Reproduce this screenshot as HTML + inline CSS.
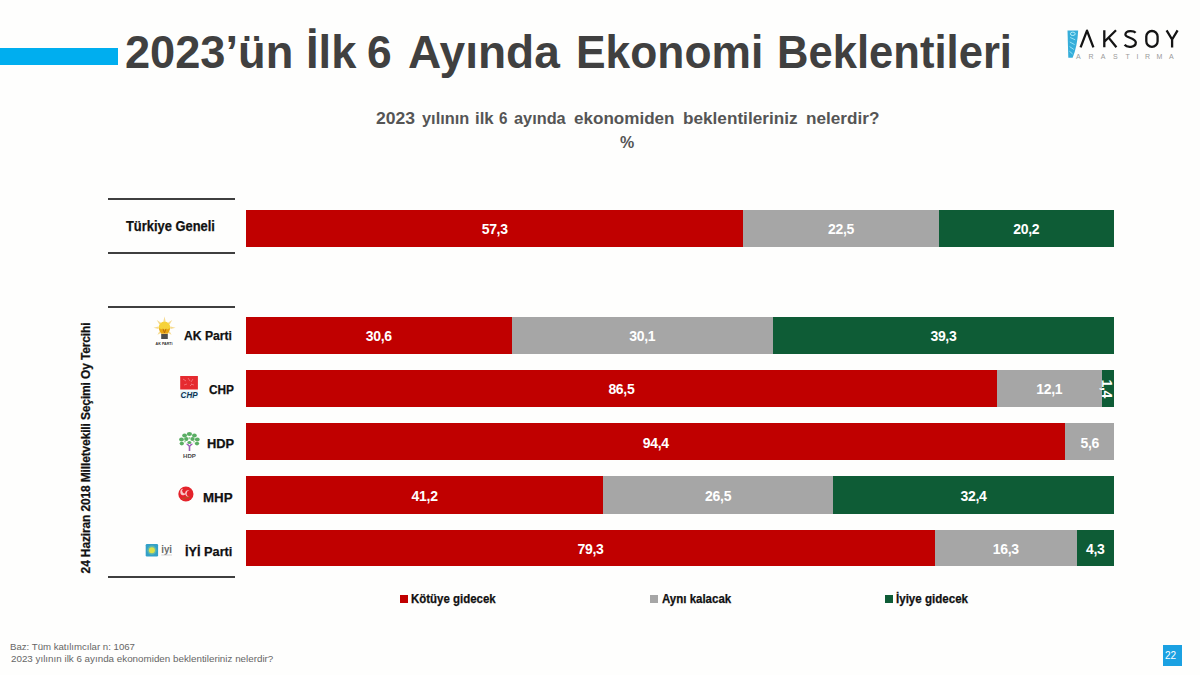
<!DOCTYPE html>
<html><head><meta charset="utf-8">
<style>
html,body{margin:0;padding:0;}
body{width:1200px;height:675px;position:relative;overflow:hidden;background:#FEFEFD;font-family:"Liberation Sans",sans-serif;}
.a{position:absolute;white-space:nowrap;}
.hv{-webkit-text-stroke:0.25px currentColor;}
.seg{position:absolute;display:flex;align-items:center;justify-content:center;}
.seg .l{color:#fff;font-weight:bold;font-size:14px;letter-spacing:-0.3px;position:relative;top:1px;}
.seg .vl{color:#fff;font-weight:bold;font-size:14px;letter-spacing:-0.3px;transform:rotate(90deg) translate(0.7px,1.2px);display:inline-block;}
.rule{position:absolute;left:108px;width:126.5px;height:2px;background:#3f3f3f;}
.lab{position:absolute;right:967px;font-weight:bold;font-size:13px;color:#111;white-space:nowrap;}
</style></head><body>
<div class="a" style="left:0;top:48px;width:118px;height:17px;background:#00AEEF"></div>
<div class="a" style="left:125.04px;top:24.8px;font-size:46px;font-weight:bold;color:#404040;transform:scaleX(0.9820);transform-origin:0 0">2023’ün</div>
<div class="a" style="left:305.85px;top:24.8px;font-size:46px;font-weight:bold;color:#404040;transform:scaleX(0.9833);transform-origin:0 0">İlk</div>
<div class="a" style="left:366.87px;top:24.8px;font-size:46px;font-weight:bold;color:#404040;transform:scaleX(0.9636);transform-origin:0 0">6</div>
<div class="a" style="left:407.80px;top:24.8px;font-size:46px;font-weight:bold;color:#404040;transform:scaleX(1.0013);transform-origin:0 0">Ayında</div>
<div class="a" style="left:575.91px;top:24.8px;font-size:46px;font-weight:bold;color:#404040;transform:scaleX(0.9638);transform-origin:0 0">Ekonomi</div>
<div class="a" style="left:777.16px;top:24.8px;font-size:46px;font-weight:bold;color:#404040;transform:scaleX(0.9475);transform-origin:0 0">Beklentileri</div>
<div class="a" style="left:376.00px;top:110px;font-size:16px;font-weight:bold;color:#555;transform:scaleX(1.0971);transform-origin:0 0">2023</div>
<div class="a" style="left:421.60px;top:110px;font-size:16px;font-weight:bold;color:#555;transform:scaleX(1.0217);transform-origin:0 0">yılının</div>
<div class="a" style="left:474.65px;top:110px;font-size:16px;font-weight:bold;color:#555;transform:scaleX(1.0471);transform-origin:0 0">ilk</div>
<div class="a" style="left:499.05px;top:110px;font-size:16px;font-weight:bold;color:#555;transform:scaleX(0.9500);transform-origin:0 0">6</div>
<div class="a" style="left:514.00px;top:110px;font-size:16px;font-weight:bold;color:#555;transform:scaleX(1.0196);transform-origin:0 0">ayında</div>
<div class="a" style="left:573.73px;top:110px;font-size:16px;font-weight:bold;color:#555;transform:scaleX(1.0667);transform-origin:0 0">ekonomiden</div>
<div class="a" style="left:682.93px;top:110px;font-size:16px;font-weight:bold;color:#555;transform:scaleX(1.0733);transform-origin:0 0">beklentileriniz</div>
<div class="a" style="left:805.53px;top:110px;font-size:16px;font-weight:bold;color:#555;transform:scaleX(1.0716);transform-origin:0 0">nelerdir?</div>
<div class="a" id="pct" style="left:620px;top:134px;font-size:16px;font-weight:bold;color:#555;">%</div>
<svg class="a" style="left:1060px;top:25px" width="130" height="40" viewBox="1060 25 130 40">
<path d="M1067.5,30.4 L1078.2,30.4 Q1077.4,46 1072.6,57.8 L1068.3,57.8 Z" fill="#36AEDA"/>
<ellipse cx="1072.8" cy="33.8" rx="2.4" ry="1.7" stroke="#B5EEF9" stroke-width="1" fill="none"/>
<path d="M1070.2,37.5 L1075.2,39.8 M1069.8,42 L1074.6,44.6 M1069.6,46.6 L1073.8,49.4 M1069.4,51.2 L1072.6,54" stroke="#9FE6F6" stroke-width="0.9" fill="none"/>
<g stroke="#141414" stroke-width="2.3" fill="none" stroke-linejoin="round">
<path d="M1080.6,47.3 L1087,30.6 L1093.4,47.3"/>
<path d="M1104.3,30.3 V47.3 M1116,30.3 L1104.6,41.5 M1108.6,37.6 L1116.4,47.3"/>
<path d="M1135.6,32.8 C1134,30.8 1126,29.8 1125.4,34.4 C1125,38 1135.8,37.6 1135.8,42.6 C1135.8,47.8 1127,47.8 1124.6,44.8"/>
<rect x="1146.3" y="31.0" width="11.3" height="15.8" rx="5.6" ry="5.6"/>
<path d="M1166.6,30.3 L1172.1,39.5 L1177.6,30.3 M1172.1,39.5 V47.5"/>
</g>
<g fill="#9a9a9a" font-family="Liberation Sans" font-size="7">
<text x="1076" y="58.8">A</text><text x="1088.6" y="58.8">R</text><text x="1100.8" y="58.8">A</text><text x="1113" y="58.8">S</text><text x="1125.4" y="58.8">T</text><text x="1136.6" y="58.8">I</text><text x="1145" y="58.8">R</text><text x="1156.6" y="58.8">M</text><text x="1169" y="58.8">A</text>
</g>
</svg>
<div class="rule" style="top:198px"></div>
<div class="rule" style="top:252px"></div>
<div class="rule" style="top:306px"></div>
<div class="rule" style="top:576px"></div>

<div class="a hv" style="left:126.10px;top:217.5px;font-weight:bold;font-size:14px;color:#111;transform:scaleX(0.9208);transform-origin:0 0">Türkiye Geneli</div>
<div class="a hv" style="left:183.90px;top:328px;font-weight:bold;font-size:13px;color:#111;transform:scaleX(0.9353);transform-origin:0 0">AK Parti</div>
<div class="a hv" style="left:208.90px;top:382px;font-weight:bold;font-size:13px;color:#111;transform:scaleX(0.9111);transform-origin:0 0">CHP</div>
<div class="a hv" style="left:206.51px;top:436px;font-weight:bold;font-size:13px;color:#111;transform:scaleX(0.9885);transform-origin:0 0">HDP</div>
<div class="a hv" style="left:202.67px;top:490px;font-weight:bold;font-size:13px;color:#111;transform:scaleX(1.0250);transform-origin:0 0">MHP</div>
<div class="a hv" style="left:184.62px;top:544px;font-weight:bold;font-size:13px;color:#111;transform:scaleX(0.9787);transform-origin:0 0">İYİ Parti</div>
<svg class="a" style="left:140px;top:310px" width="70" height="260" viewBox="140 310 70 260">
<g>
<g transform="translate(164.5,327.8)">
<g fill="#F4CF6A" opacity="0.75">
<polygon points="0,-11.2 1.2,-6 -1.2,-6"/>
<polygon points="0,-11 1.2,-6 -1.2,-6" transform="rotate(45)"/>
<polygon points="0,-11 1.2,-6 -1.2,-6" transform="rotate(90)"/>
<polygon points="0,-10 1.2,-6 -1.2,-6" transform="rotate(135)"/>
<polygon points="0,-11 1.2,-6 -1.2,-6" transform="rotate(-45)"/>
<polygon points="0,-11 1.2,-6 -1.2,-6" transform="rotate(-90)"/>
<polygon points="0,-10 1.2,-6 -1.2,-6" transform="rotate(-135)"/>
</g>
<circle cx="0" cy="-0.5" r="5.8" fill="#F6D23A"/>
<path d="M-5.6,0.5 Q0,3 5.6,0.5 Q5,4 3.3,6 L-3.3,6 Q-5,4 -5.6,0.5 Z" fill="#E9A512"/>
<path d="M-1.5,1 L0,5 L1.5,1" stroke="#B86A0A" stroke-width="0.9" fill="none"/>
<rect x="-3.3" y="6.2" width="6.6" height="5" fill="#4d4d4d"/>
</g>
<text x="155.6" y="344.6" font-family="Liberation Sans" font-size="4" font-weight="bold" fill="#333" textLength="17" lengthAdjust="spacingAndGlyphs">AK PARTİ</text>
<rect x="180.2" y="376" width="17.7" height="13.5" fill="#E52A2F"/>
<g stroke="#F27A80" stroke-width="0.8" fill="none"><path d="M183,379 l3,2 M188,378 l2,3 M193,379 l-2,3 M184,385 l3,-1 M190,386 l2,-2 M194,385 l-3,-1"/></g>
<rect x="180.2" y="390.5" width="17.7" height="8" fill="#E6F6FA"/>
<text x="180.6" y="397.9" font-family="Liberation Sans" font-size="8.2" font-weight="bold" font-style="italic" fill="#0E3756" textLength="17" lengthAdjust="spacingAndGlyphs">CHP</text>
<g fill="#5AAE64">
<ellipse cx="189.4" cy="434" rx="2.6" ry="2"/><ellipse cx="184.6" cy="435.6" rx="2.4" ry="2"/><ellipse cx="194.4" cy="435.6" rx="2.4" ry="2"/>
<ellipse cx="181.5" cy="439.5" rx="2.4" ry="2"/><ellipse cx="197.3" cy="439.5" rx="2.4" ry="2"/>
<ellipse cx="186.3" cy="439" rx="2.2" ry="1.9"/><ellipse cx="192.5" cy="439" rx="2.2" ry="1.9"/>
<ellipse cx="181.8" cy="443.6" rx="2.2" ry="1.8"/><ellipse cx="197" cy="443.6" rx="2.2" ry="1.8"/>
<ellipse cx="189.4" cy="442.5" rx="2" ry="1.6"/>
</g>
<g fill="#9BD39A"><circle cx="189.4" cy="438.2" r="1.1"/><circle cx="185" cy="441.6" r="0.9"/><circle cx="194" cy="441.6" r="0.9"/></g>
<path d="M185.8,443.8 L188.7,446.6 L188.7,451 L190.3,451 L190.3,446.6 L193.2,443.8 L191,443.8 L189.5,445.4 L188,443.8 Z" fill="#9B5DB8"/>
<text x="183.1" y="457.8" font-family="Liberation Sans" font-size="5.6" font-weight="bold" fill="#4a4a4a" textLength="12.8" lengthAdjust="spacingAndGlyphs">HDP</text>
<circle cx="185.9" cy="494" r="7.6" fill="#E4232B"/>
<g fill="#F9C9C9">
<path d="M183,488.8 a3,3.2 0 1,0 3.2,4 a2.3,2.5 0 1,1 -3.2,-4Z"/>
<path d="M189.6,490.6 a3,3.2 0 1,0 -0.5,5.8 a2.3,2.5 0 1,1 0.5,-5.8Z"/>
<path d="M182.6,496 a3,3 0 1,0 5.6,2.4 a2.4,2.3 0 1,1 -5.6,-2.4Z"/>
</g>
<path d="M182,499 q4,-1.5 8,-2" stroke="#9a6a20" stroke-width="0.7" fill="none"/>
<rect x="145.7" y="544" width="12.4" height="12.5" rx="1.2" fill="#33A0C8"/>
<circle cx="151.9" cy="550.2" r="4.6" fill="#7CC59A" opacity="0.6"/>
<circle cx="151.9" cy="550.2" r="3" fill="#DCE148"/>
<text x="161.2" y="553" font-family="Liberation Sans" font-size="11" font-weight="bold" fill="#6a6a6a" textLength="10.8" lengthAdjust="spacingAndGlyphs">iyi</text>
<rect x="161.2" y="554.6" width="10.8" height="0.8" fill="#c8c8c8"/>
</g>
</svg>
<div class="a hv" id="vert" style="left:86px;top:448px;font-size:12px;font-weight:bold;color:#111;letter-spacing:-0.14px;transform:translate(-50%,-50%) rotate(-90deg);">24 Haziran 2018 Milletvekili Seçimi Oy Tercihi</div>

<div class="seg" style="left:246.00px;top:210px;width:497.36px;height:36.8px;background:#C00000"><span class="l">57,3</span></div>
<div class="seg" style="left:743.36px;top:210px;width:195.30px;height:36.8px;background:#A6A6A6"><span class="l">22,5</span></div>
<div class="seg" style="left:938.66px;top:210px;width:175.34px;height:36.8px;background:#0E5C36"><span class="l">20,2</span></div>
<div class="seg" style="left:246.00px;top:317px;width:265.61px;height:36.5px;background:#C00000"><span class="l">30,6</span></div>
<div class="seg" style="left:511.61px;top:317px;width:261.27px;height:36.5px;background:#A6A6A6"><span class="l">30,1</span></div>
<div class="seg" style="left:772.88px;top:317px;width:341.12px;height:36.5px;background:#0E5C36"><span class="l">39,3</span></div>
<div class="seg" style="left:246.00px;top:369.5px;width:750.82px;height:37.8px;background:#C00000"><span class="l">86,5</span></div>
<div class="seg" style="left:996.82px;top:369.5px;width:105.03px;height:37.8px;background:#A6A6A6"><span class="l">12,1</span></div>
<div class="seg" style="left:1101.85px;top:369.5px;width:12.15px;height:37.8px;background:#0E5C36"><span class="vl">1,4</span></div>
<div class="seg" style="left:246.00px;top:423.3px;width:819.39px;height:36.5px;background:#C00000"><span class="l">94,4</span></div>
<div class="seg" style="left:1065.39px;top:423.3px;width:48.61px;height:36.5px;background:#A6A6A6"><span class="l">5,6</span></div>
<div class="seg" style="left:246.00px;top:475.8px;width:357.26px;height:37.9px;background:#C00000"><span class="l">41,2</span></div>
<div class="seg" style="left:603.26px;top:475.8px;width:229.79px;height:37.9px;background:#A6A6A6"><span class="l">26,5</span></div>
<div class="seg" style="left:833.05px;top:475.8px;width:280.95px;height:37.9px;background:#0E5C36"><span class="l">32,4</span></div>
<div class="seg" style="left:246.00px;top:530px;width:689.01px;height:36.4px;background:#C00000"><span class="l">79,3</span></div>
<div class="seg" style="left:935.01px;top:530px;width:141.63px;height:36.4px;background:#A6A6A6"><span class="l">16,3</span></div>
<div class="seg" style="left:1076.64px;top:530px;width:37.36px;height:36.4px;background:#0E5C36"><span class="l">4,3</span></div>

<div class="a" style="left:399.5px;top:594.5px;width:8px;height:8px;background:#C00000"></div>
<div class="a hv" style="left:410.55px;top:592px;font-size:12px;font-weight:bold;color:#111;transform:scaleX(0.9545);transform-origin:0 0">Kötüye gidecek</div>
<div class="a" style="left:650px;top:594.5px;width:8px;height:8px;background:#A6A6A6"></div>
<div class="a hv" style="left:662.00px;top:592px;font-size:12px;font-weight:bold;color:#111;transform:scaleX(0.9569);transform-origin:0 0">Aynı kalacak</div>
<div class="a" style="left:885.3px;top:594.5px;width:8px;height:8px;background:#0E5C36"></div>
<div class="a hv" style="left:895.64px;top:592px;font-size:12px;font-weight:bold;color:#111;transform:scaleX(0.9635);transform-origin:0 0">İyiye gidecek</div>

<div class="a" style="left:9.93px;top:642px;font-size:9px;color:#666;transform:scaleX(1.0690);transform-origin:0 0">Baz: Tüm katılımcılar n: 1067</div>
<div class="a" style="left:11.00px;top:654px;font-size:9px;color:#666;transform:scaleX(1.0900);transform-origin:0 0">2023 yılının ilk 6 ayında ekonomiden beklentileriniz nelerdir?</div>

<div class="a" style="left:1162.5px;top:645px;width:19.5px;height:21px;background:#1BA1E2;color:#fff;font-size:10px;text-align:left;text-indent:2.5px;line-height:21px">22</div>
</body></html>
